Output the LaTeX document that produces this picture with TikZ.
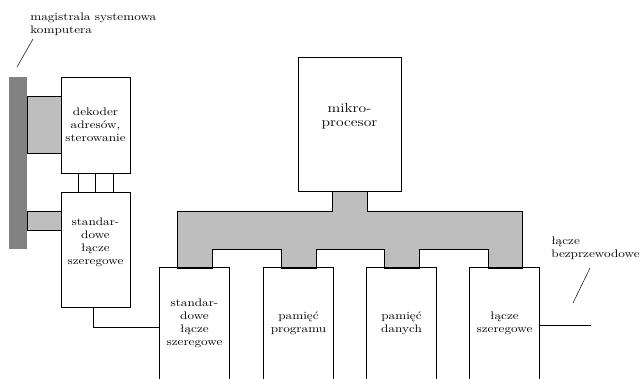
\documentclass[tikz,border=0pt]{standalone}
\usepackage{fontspec}
\setmainfont{Latin Modern Roman}[FakeStretch=1.2]
\definecolor{busgray}{RGB}{190,190,190}
\definecolor{bardark}{RGB}{130,130,130}
\begin{document}
\begin{tikzpicture}[x=1pt,y=-1pt,line width=0.6pt,
  box/.style={draw,fill=white,inner sep=0pt,align=center,font=\fontsize{11}{13}\selectfont},
  openbox/.style={draw=none,inner sep=0pt,align=center,font=\fontsize{11}{13}\selectfont,minimum width=69pt,minimum height=111pt},
  lightlink/.style={draw,fill=busgray},
  lbl/.style={inner sep=0pt,align=left,anchor=north west,font=\fontsize{11}{13}\selectfont},
  wire/.style={draw,line width=0.8pt}]
\useasboundingbox (0,0) rectangle (640,379);
% system bus of the computer
\fill[bardark] (9,77) rectangle (27,249);
% light links from the bus
\path[lightlink] (27,96) rectangle (61,153);
\path[lightlink] (27,211) rectangle (61,230);
% internal gray bus
\path[draw,fill=busgray] (332,191) -- (332,211) -- (177,211) -- (177,268) -- (212,268) -- (212,249)
  -- (281,249) -- (281,268) -- (316,268) -- (316,249) -- (384,249) -- (384,268) -- (419,268)
  -- (419,249) -- (488,249) -- (488,268) -- (522,268) -- (522,211) -- (367,211) -- (367,191);
% boxes
\node[box,minimum width=69pt,minimum height=96pt] (dek) at (95.5,125) {dekoder\\adresów,\\sterowanie};
\node[box,minimum width=69pt,minimum height=115pt] (std1) at (95.5,249.5) {standar-\\dowe\\łącze\\szeregowe\\[4pt]};
\node[box,minimum width=17pt,minimum height=19pt] (sa) at (86.5,182.5) {};
\node[box,minimum width=18pt,minimum height=19pt] (sb) at (104,182.5) {};
\node[box,minimum width=103pt,minimum height=134pt,font=\fontsize{13}{14}\selectfont] (cpu) at (349.5,124) {mikro-\\procesor\\[4pt]};
% bottom boxes (open at the bottom)
\node[openbox] (b1) at (194.5,323.5) {standar-\\dowe\\łącze\\szeregowe};
\node[openbox] (b2) at (298.5,323.5) {pamięć\\programu};
\node[openbox] (b3) at (401.5,323.5) {pamięć\\danych};
\node[openbox] (b4) at (504.5,323.5) {łącze\\szeregowe};
\foreach \b in {b1,b2,b3,b4}
  \draw (\b.south west) -- (\b.north west) -- (\b.north east) -- (\b.south east);
% wires
\draw[wire] ([xshift=-2.5pt]std1.south) |- ([yshift=-3.5pt]b1.west);
\coordinate (wend) at (591,325);
\draw[wire] (b4.east |- wend) -- (wend);
% labels
\node[lbl] (lmag) at (30,13) {magistrala systemowa\\komputera};
\coordinate (m1) at (33,39);
\coordinate (m2) at (17,67);
\draw[line width=0.5pt] (m1) -- (m2);
\node[lbl] (lbez) at (551,237) {łącze\\bezprzewodowe};
\coordinate (w1) at (590,268);
\coordinate (w2) at (573,303);
\draw[line width=0.5pt] (w1) -- (w2);
\end{tikzpicture}
\end{document}
